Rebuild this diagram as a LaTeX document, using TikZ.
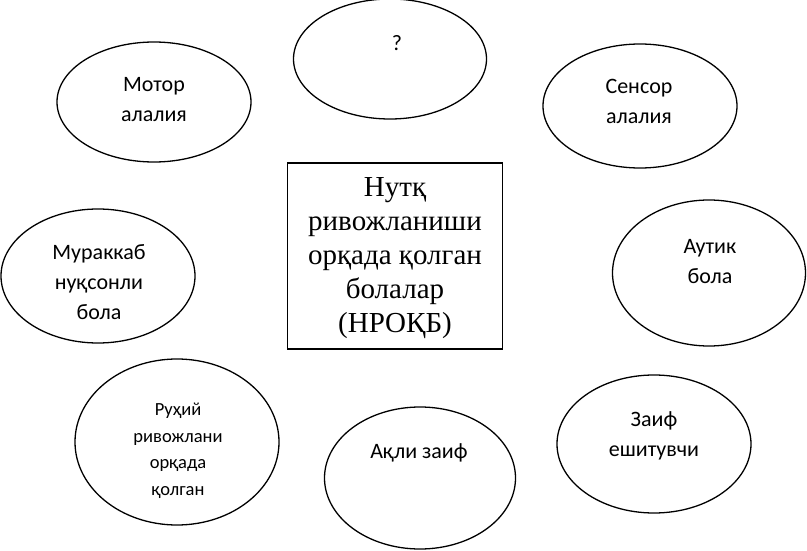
\documentclass[tikz,border=0pt]{standalone}
\usepackage{fontspec}
\setmainfont{Carlito}
\newfontfamily\serifcyr{Liberation Serif}
\usetikzlibrary{shapes.geometric}
\tikzset{
  oval/.style={draw=black, line width=1.3pt, ellipse, inner sep=0pt},
  lbl/.style={align=center, font=\fontsize{22}{30}\selectfont, inner sep=0pt},
  lblsmall/.style={align=center, font=\fontsize{18.5}{26.5}\selectfont, inner sep=0pt},
  centre/.style={draw=black, line width=1.8pt, inner sep=0pt},
  centrelbl/.style={align=center, font=\serifcyr\fontsize{29}{34}\selectfont, inner sep=0pt}
}
\begin{document}
\begin{tikzpicture}[x=1pt,y=-1pt]
\useasboundingbox (0,0) rectangle (807,551);
% ellipses
\node[oval, minimum width=193pt, minimum height=120pt] (q) at (390,59) {};
\node[oval, minimum width=194pt, minimum height=120pt] (motor) at (154,102) {};
\node[oval, minimum width=194pt, minimum height=124pt] (sensor) at (640,106) {};
\node[oval, minimum width=193pt, minimum height=146pt] (autik) at (709,273) {};
\node[oval, minimum width=194pt, minimum height=134pt] (murakkab) at (98,276) {};
\node[oval, minimum width=204pt, minimum height=166pt] (ruhiy) at (177,442) {};
\node[oval, minimum width=191pt, minimum height=142pt] (aqli) at (420,478) {};
\node[oval, minimum width=194pt, minimum height=138pt] (zaif) at (654,444) {};
% centre box
\node[centre, minimum width=215pt, minimum height=186pt] (box) at (395,256) {};
% labels
\node[lbl] (qt) at (397,43) {?};
\node[lbl] (motort) at (154,100) {Мотор\\алалия};
\node[lbl] (sensort) at (639,101) {Сенсор\\алалия};
\node[lbl] (autikt) at (710,262) {Аутик\\бола};
\node[lbl] (murakkabt) at (99,282) {Мураккаб\\нуқсонли\\бола};
\node[lblsmall] (ruhiyt) at (178,451) {Руҳий\\ривожлани\\орқада\\қолган};
\node[lbl] (aqlit) at (419,453) {Ақли заиф};
\node[lbl] (zaift) at (654,436) {Заиф\\ешитувчи};
\node[centrelbl] (boxt) at (395,258) {Нутқ\\ривожланиши\\орқада қолган\\болалар\\(НРОҚБ)};
\end{tikzpicture}
\end{document}
